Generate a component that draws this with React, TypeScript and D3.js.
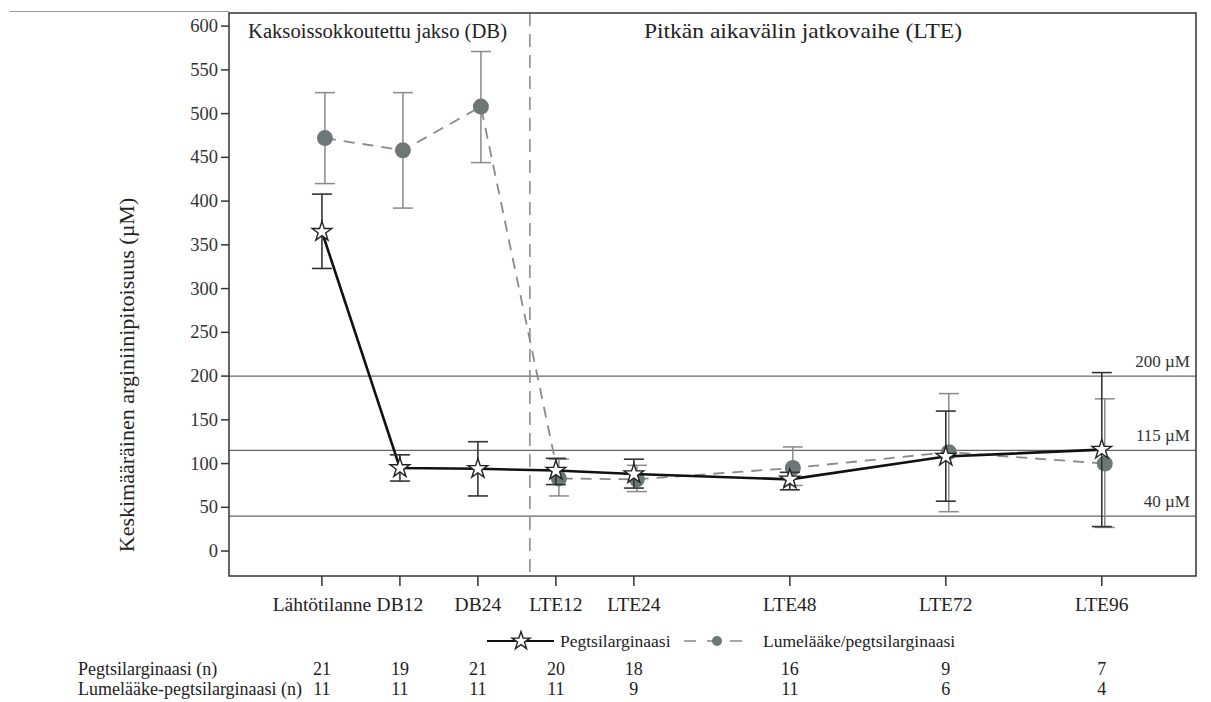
import * as d3 from "d3";

// weeks from start, used for x placement
const visits = ["Lähtötilanne", "DB12", "DB24", "LTE12", "LTE24", "LTE48", "LTE72", "LTE96"];
const weeks = [0, 12, 24, 36, 48, 72, 96, 120];

const pegMean = [365, 95, 94, 92, 88, 82, 108, 116];
const pegLow = [323, 80, 63, 76, 72, 70, 57, 28];
const pegHigh = [408, 110, 125, 106, 105, 90, 160, 204];

const plaMean = [472, 458, 508, 83, 82, 95, 113, 100];
const plaLow = [420, 392, 444, 63, 68, 75, 45, 27];
const plaHigh = [524, 524, 571, 105, 98, 119, 180, 174];

const pegN = [21, 19, 21, 20, 18, 16, 9, 7];
const plaN = [11, 11, 11, 11, 9, 11, 6, 4];

const refLines = [200, 115, 40];
const yTicks = d3.range(0, 601, 50);
const phaseSplitWeek = 32;

const W = 1211;
const H = 702;
const margin = { left: 229, right: 15, top: 13, bottom: 126 };
const FONT = "'Liberation Serif', 'Times New Roman', serif";

export default function App() {
  const x = d3
    .scaleLinear()
    .domain([-14.3, 134.5])
    .range([margin.left, W - margin.right]);
  const y = d3
    .scaleLinear()
    .domain([-28.5, 615])
    .range([H - margin.bottom, margin.top]);

  const x0 = margin.left;
  const x1 = W - margin.right;
  const y0 = H - margin.bottom;
  const y1 = margin.top;

  const line = d3
    .line<number>()
    .x((_, i) => x(weeks[i]))
    .y((d) => y(d));
  const plaLine = d3
    .line<number>()
    .x((_, i) => x(weeks[i]) + 3)
    .y((d) => y(d));

  const star = d3.symbol().type(d3.symbolStar).size(120)()!;
  const legendStar = d3.symbol().type(d3.symbolStar).size(100)()!;
  const capW = 10;

  return (
    <svg
      width={W}
      height={H}
      style={{ position: "absolute", left: 0, top: 0, background: "#fff", fontFamily: FONT }}
    >
      {/* header rule */}
      <line x1={10} x2={x0} y1={11.5} y2={11.5} stroke="#999" strokeWidth={1} />

      {/* reference lines */}
      {refLines.map((r) => (
        <g key={r}>
          <line x1={x0} x2={x1} y1={y(r)} y2={y(r)} stroke="#666" strokeWidth={1.2} />
          <text x={x1 - 6} y={y(r) - 9} textAnchor="end" fontSize={17} fill="#333">
            {r} µM
          </text>
        </g>
      ))}

      {/* phase split */}
      <line
        x1={x(phaseSplitWeek)}
        x2={x(phaseSplitWeek)}
        y1={y1}
        y2={y0}
        stroke="#888"
        strokeWidth={1.5}
        strokeDasharray="13,8"
      />
      <text x={248} y={38} fontSize={20} fill="#222" textLength={259} lengthAdjust="spacingAndGlyphs">
        Kaksoissokkoutettu jakso (DB)
      </text>
      <text x={644} y={38} fontSize={21} fill="#222" textLength={318} lengthAdjust="spacingAndGlyphs">
        Pitkän aikavälin jatkovaihe (LTE)
      </text>

      {/* placebo series (grey, dashed) */}
      <path d={plaLine(plaMean)!} fill="none" stroke="#8a8a8a" strokeWidth={1.8} strokeDasharray="11,8" />
      {plaMean.map((_, i) => {
        const cx = x(weeks[i]) + 3;
        return (
          <g key={"pe" + i} stroke="#8a8a8a" strokeWidth={1.5}>
            <line x1={cx} x2={cx} y1={y(plaLow[i])} y2={y(plaHigh[i])} />
            <line x1={cx - capW} x2={cx + capW} y1={y(plaLow[i])} y2={y(plaLow[i])} />
            <line x1={cx - capW} x2={cx + capW} y1={y(plaHigh[i])} y2={y(plaHigh[i])} />
          </g>
        );
      })}
      {plaMean.map((d, i) => (
        <circle key={"pc" + i} cx={x(weeks[i]) + 3} cy={y(d)} r={8} fill="#6e7777" />
      ))}

      {/* pegzilarginase series (black, solid) */}
      <path d={line(pegMean)!} fill="none" stroke="#111" strokeWidth={2.6} />
      {pegMean.map((_, i) => {
        const cx = x(weeks[i]);
        return (
          <g key={"ge" + i} stroke="#333" strokeWidth={1.6}>
            <line x1={cx} x2={cx} y1={y(pegLow[i])} y2={y(pegHigh[i])} />
            <line x1={cx - capW} x2={cx + capW} y1={y(pegLow[i])} y2={y(pegLow[i])} />
            <line x1={cx - capW} x2={cx + capW} y1={y(pegHigh[i])} y2={y(pegHigh[i])} />
          </g>
        );
      })}
      {pegMean.map((d, i) => (
        <path
          key={"gs" + i}
          d={star}
          transform={`translate(${x(weeks[i])},${y(d)})`}
          fill="#fff"
          stroke="#222"
          strokeWidth={1.4}
        />
      ))}

      {/* frame */}
      <rect x={x0} y={y1} width={x1 - x0} height={y0 - y1} fill="none" stroke="#333" strokeWidth={1.5} />

      {/* y axis */}
      {yTicks.map((t) => (
        <g key={t}>
          <line x1={x0 - 8} x2={x0} y1={y(t)} y2={y(t)} stroke="#333" strokeWidth={1.5} />
          <text x={x0 - 11} y={y(t) + 6} textAnchor="end" fontSize={18.5} fill="#333">
            {t}
          </text>
        </g>
      ))}
      <text
        transform={`translate(134,375) rotate(-90)`}
        textAnchor="middle"
        fontSize={22}
        fill="#222"
      >
        Keskimääräinen arginiinipitoisuus (µM)
      </text>

      {/* x axis */}
      {visits.map((v, i) => (
        <g key={v}>
          <line x1={x(weeks[i])} x2={x(weeks[i])} y1={y0} y2={y0 + 10} stroke="#333" strokeWidth={1.5} />
          <text x={x(weeks[i])} y={y0 + 35} textAnchor="middle" fontSize={19.5} fill="#222">
            {v}
          </text>
        </g>
      ))}

      {/* legend */}
      <g transform="translate(0,641)">
        <line x1={487} x2={554} y1={0} y2={0} stroke="#111" strokeWidth={2} />
        <path d={legendStar} transform="translate(521,0)" fill="#fff" stroke="#222" strokeWidth={1.4} />
        <text x={560} y={5.5} fontSize={17.5} fill="#222">
          Pegtsilarginaasi
        </text>
        <line x1={684} x2={753} y1={0} y2={0} stroke="#888" strokeWidth={1.6} strokeDasharray="12,11" />
        <circle cx={717} cy={0} r={5} fill="#6e7777" />
        <text x={763} y={5.5} fontSize={17.5} fill="#222">
          Lumelääke/pegtsilarginaasi
        </text>
      </g>

      {/* n table */}
      <text x={78} y={675} fontSize={18} fill="#222">
        Pegtsilarginaasi (n)
      </text>
      <text x={78} y={695} fontSize={18} fill="#222">
        Lumelääke-pegtsilarginaasi (n)
      </text>
      {pegN.map((n, i) => (
        <text key={"n1" + i} x={x(weeks[i])} y={675} textAnchor="middle" fontSize={18} fill="#222">
          {n}
        </text>
      ))}
      {plaN.map((n, i) => (
        <text key={"n2" + i} x={x(weeks[i])} y={695} textAnchor="middle" fontSize={18} fill="#222">
          {n}
        </text>
      ))}
    </svg>
  );
}
